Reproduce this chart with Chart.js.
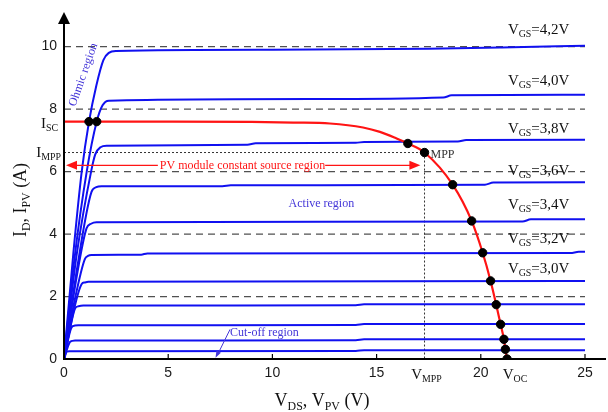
<!DOCTYPE html>
<html>
<head>
    <title>MOSFET output curves and PV I-V curve</title>
    <script src="https://cdn.jsdelivr.net/npm/chart.js"></script>
    <style>
        html, body { margin: 0; padding: 0; background: #fff; }
        .chart-container { width: 608px; height: 412px; position: relative; }
    </style>
</head>
<body>
    <div class="chart-container">
        <canvas id="ivChart"></canvas>
    </div>

    <script>
        // MOSFET output curves I_D(V_DS), one per gate voltage (top to bottom)
        const vgs42 = [[0,0],[0.45,3.4],[0.85,6.0],[1.2,7.6],[1.55,8.75],[1.89,9.57],[2.15,9.8],[2.5,9.86],[10,9.9],[17.5,9.93],[21,9.97],[25,10.03]];
        const vgs40 = [[0,0],[0.5,3.2],[1.09,6.0],[1.57,7.6],[1.85,8.12],[2.15,8.27],[12,8.32],[18.2,8.37],[18.6,8.44],[25,8.46]];
        const vgs38 = [[0,0],[0.6,3.3],[1.3,6.0],[1.5,6.55],[1.75,6.78],[2.05,6.83],[8.8,6.86],[9.2,6.91],[14,6.92],[14.4,6.95],[18.9,6.96],[19.3,7.01],[25,7.02]];
        const vgs36 = [[0,0],[0.65,3.0],[1.32,5.35],[1.55,5.5],[1.8,5.53],[7.6,5.53],[8,5.56],[20.2,5.58],[20.6,5.65],[25,5.66]];
        const vgs34 = [[0,0],[0.6,2.6],[1.08,4.18],[1.3,4.33],[1.56,4.38],[22,4.4],[22.4,4.47],[25,4.47]];
        const vgs32 = [[0,0],[0.55,2.0],[1.0,3.2],[1.15,3.3],[1.32,3.33],[3.7,3.34],[4.0,3.38],[24.3,3.39],[24.7,3.43],[25,3.43]];
        const vgs30 = [[0,0],[0.45,1.5],[0.85,2.4],[1.0,2.45],[1.17,2.47],[25,2.5]];
        const vgs28 = [[0,0],[0.3,1.0],[0.53,1.62],[0.7,1.69],[0.93,1.71],[14,1.72],[14.4,1.75],[25,1.75]];
        const vgs26 = [[0,0],[0.37,1.02],[0.52,1.07],[0.69,1.08],[14,1.09],[14.4,1.12],[25,1.12]];
        const vgs24 = [[0,0],[0.29,0.55],[0.4,0.58],[0.53,0.59],[14,0.6],[14.4,0.63],[25,0.63]];
        const vgs22 = [[0,0],[0.13,0.23],[0.25,0.25],[0.37,0.25],[14,0.26],[14.4,0.28],[25,0.28]];
        const mosfetCurves = [vgs42, vgs40, vgs38, vgs36, vgs34, vgs32, vgs30, vgs28, vgs26, vgs24, vgs22];

        // PV module I-V curve
        const pvCurve = [[0,7.6],[5,7.6],[9,7.59],[11,7.57],[12.76,7.54],[14.35,7.41],[15.16,7.27],[15.96,7.06],[16.5,6.9],[17.3,6.61],[18.65,5.58],[19.56,4.42],[20.09,3.4],[20.47,2.5],[20.74,1.74],[20.95,1.11],[21.11,0.63],[21.18,0.31],[21.26,0]];

        // operating points (intersections)
        const opPoints = [[1.2,7.6],[1.57,7.6],[16.5,6.9],[17.3,6.61],[18.65,5.58],[19.56,4.42],[20.09,3.4],[20.47,2.5],[20.74,1.74],[20.95,1.11],[21.11,0.63],[21.18,0.31],[21.26,0]];

        const vgsLabels = ['=4,2V', '=4,0V', '=3,8V', '=3,6V', '=3,4V', '=3,2V', '=3,0V'];
        const gridLevels = [2, 4, 6, 8, 10];
        const iSC = 7.6, iMPP = 6.61, vMPP = 17.3, vOC = 21.26;

        const toXY = arr => arr.map(p => ({ x: p[0], y: p[1] }));

        const BLUE = '#1010f0';
        const RED = '#ff1414';
        const REGION = '#4436d8';
        const SERIF = '"Liberation Serif", "DejaVu Serif", serif';

        // text with subscripts: parts = [[text, isSub], ...]
        function subText(ctx, parts, x, y, size, align, color) {
            ctx.save();
            ctx.fillStyle = color;
            ctx.textBaseline = 'alphabetic';
            ctx.textAlign = 'left';
            const sub = size * 0.66;
            let w = 0;
            parts.forEach(p => {
                ctx.font = (p[1] ? sub : size) + 'px ' + SERIF;
                w += ctx.measureText(p[0]).width;
            });
            let cx = align === 'center' ? x - w / 2 : align === 'right' ? x - w : x;
            parts.forEach(p => {
                ctx.font = (p[1] ? sub : size) + 'px ' + SERIF;
                ctx.fillText(p[0], cx, p[1] ? y + size * 0.2 : y);
                cx += ctx.measureText(p[0]).width;
            });
            ctx.restore();
        }

        function arrowHead(ctx, tx, ty, angle, len, half) {
            ctx.beginPath();
            ctx.moveTo(tx, ty);
            ctx.lineTo(tx - len * Math.cos(angle) + half * Math.sin(angle), ty - len * Math.sin(angle) - half * Math.cos(angle));
            ctx.lineTo(tx - len * Math.cos(angle) - half * Math.sin(angle), ty - len * Math.sin(angle) + half * Math.cos(angle));
            ctx.closePath();
            ctx.fill();
        }

        const decorPlugin = {
            id: 'decor',
            beforeDatasetsDraw(chart) {
                const ctx = chart.ctx;
                const xs = chart.scales.x, ys = chart.scales.y;
                ctx.save();
                // dashed reference levels
                ctx.strokeStyle = '#505050';
                ctx.lineWidth = 1.3;
                ctx.setLineDash([7, 5]);
                gridLevels.forEach(v => {
                    ctx.beginPath();
                    ctx.moveTo(xs.getPixelForValue(0), ys.getPixelForValue(v));
                    ctx.lineTo(xs.getPixelForValue(25), ys.getPixelForValue(v));
                    ctx.stroke();
                });
                // MPP dotted guides
                ctx.strokeStyle = '#333';
                ctx.lineWidth = 1;
                ctx.setLineDash([2, 2]);
                ctx.beginPath();
                ctx.moveTo(xs.getPixelForValue(0), ys.getPixelForValue(iMPP));
                ctx.lineTo(xs.getPixelForValue(vMPP), ys.getPixelForValue(iMPP));
                ctx.moveTo(xs.getPixelForValue(vMPP), ys.getPixelForValue(iMPP));
                ctx.lineTo(xs.getPixelForValue(vMPP), ys.getPixelForValue(0));
                ctx.stroke();
                ctx.restore();
            },
            afterDatasetsDraw(chart) {
                const ctx = chart.ctx;
                const xs = chart.scales.x, ys = chart.scales.y;
                const px = v => xs.getPixelForValue(v);
                const py = v => ys.getPixelForValue(v);
                const left = px(0), bottom = py(0);
                ctx.save();
                // axes
                ctx.strokeStyle = '#000';
                ctx.fillStyle = '#000';
                ctx.lineWidth = 2;
                ctx.setLineDash([]);
                ctx.beginPath();
                ctx.moveTo(left, bottom);
                ctx.lineTo(left, 22);
                ctx.moveTo(left - 1, bottom);
                ctx.lineTo(606, bottom);
                ctx.stroke();
                arrowHead(ctx, left, 12, -Math.PI / 2, 12, 6);
                ctx.lineWidth = 1.2;
                [5, 10, 15, 20, 25].forEach(v => {
                    ctx.beginPath();
                    ctx.moveTo(px(v), bottom);
                    ctx.lineTo(px(v), bottom - 5);
                    ctx.stroke();
                });
                ctx.restore();

                // gate voltage labels
                const labelY = [10.41, 8.77, 7.25, 5.89, 4.81, 3.70, 2.75];
                vgsLabels.forEach((t, i) => {
                    subText(ctx, [['V', 0], ['GS', 1], [t, 0]], px(21.3), py(labelY[i]), 15, 'left', '#111');
                });

                // current / voltage markers
                subText(ctx, [['I', 0], ['SC', 1]], left - 6, py(iSC) + 6, 15, 'right', '#111');
                subText(ctx, [['I', 0], ['MPP', 1]], left - 3, py(iMPP) + 4, 15, 'right', '#111');
                subText(ctx, [['MPP', 0]], px(vMPP) + 6, py(iMPP) + 5, 12, 'left', '#333');
                subText(ctx, [['V', 0], ['MPP', 1]], px(vMPP) + 2, bottom + 20, 15, 'center', '#111');
                subText(ctx, [['V', 0], ['OC', 1]], px(vOC) + 8, bottom + 20, 15, 'center', '#111');

                // axis titles
                subText(ctx, [['V', 0], ['DS', 1], [', V', 0], ['PV', 1], [' (V)', 0]], 322, 406, 18, 'center', '#111');
                ctx.save();
                ctx.translate(26, 200);
                ctx.rotate(-Math.PI / 2);
                subText(ctx, [['I', 0], ['D', 1], [', I', 0], ['PV', 1], [' (A)', 0]], 0, 0, 18, 'center', '#111');
                ctx.restore();

                // PV constant source region with double arrow
                ctx.save();
                ctx.font = '12px ' + SERIF;
                ctx.fillStyle = RED;
                ctx.strokeStyle = RED;
                ctx.lineWidth = 1.3;
                const txt = 'PV module constant source region';
                const tw = ctx.measureText(txt).width;
                const ay = py(6.2);
                const tx0 = px(4.6);
                ctx.textBaseline = 'middle';
                ctx.fillText(txt, tx0, ay + 1);
                ctx.beginPath();
                ctx.moveTo(tx0 - 2, ay);
                ctx.lineTo(left + 8, ay);
                ctx.moveTo(tx0 + tw, ay);
                ctx.lineTo(px(17.1) - 8, ay);
                ctx.stroke();
                arrowHead(ctx, left + 2, ay, Math.PI, 11, 4.5);
                arrowHead(ctx, px(17.1), ay, 0, 11, 4.5);
                ctx.restore();

                // region names
                ctx.save();
                ctx.fillStyle = REGION;
                ctx.strokeStyle = REGION;
                ctx.font = '12px ' + SERIF;
                ctx.textAlign = 'center';
                ctx.textBaseline = 'middle';
                ctx.fillText('Active region', px(12.35), py(4.97));
                ctx.textAlign = 'left';
                ctx.fillText('Cut-off region', px(7.97), py(0.83));
                ctx.lineWidth = 1;
                ctx.beginPath();
                ctx.moveTo(px(7.97), py(0.95));
                ctx.lineTo(px(7.3) + 2, py(0.08) - 3);
                ctx.stroke();
                arrowHead(ctx, px(7.27), py(0.04), Math.atan2(py(0.04) - py(0.95), px(7.27) - px(7.97)), 7, 2.5);
                ctx.translate(px(0.93), py(9.1));
                ctx.rotate(-70.5 * Math.PI / 180);
                ctx.textAlign = 'center';
                ctx.fillText('Ohmic region', 0, 0);
                ctx.restore();
            }
        };

        const datasets = [];
        datasets.push({
            data: toXY(opPoints),
            showLine: false,
            pointRadius: 4.2,
            pointBackgroundColor: '#000',
            pointBorderColor: '#000',
            order: 0
        });
        datasets.push({
            data: toXY(pvCurve),
            showLine: true,
            borderColor: RED,
            borderWidth: 2.2,
            pointRadius: 0,
            cubicInterpolationMode: 'monotone',
            order: 1
        });
        mosfetCurves.forEach(c => {
            datasets.push({
                data: toXY(c),
                showLine: true,
                borderColor: BLUE,
                borderWidth: 2,
                pointRadius: 0,
                cubicInterpolationMode: 'monotone',
                order: 2
            });
        });

        const ctx = document.getElementById('ivChart').getContext('2d');
        const chart = new Chart(ctx, {
            type: 'scatter',
            data: { datasets },
            plugins: [decorPlugin],
            options: {
                responsive: true,
                maintainAspectRatio: false,
                animation: false,
                layout: { padding: { top: 11, right: 8, left: 0, bottom: 0 } },
                plugins: { legend: { display: false }, tooltip: { enabled: false } },
                scales: {
                    x: {
                        type: 'linear',
                        min: 0,
                        max: 25.72,
                        afterFit: s => { s.height = 53; },
                        grid: { display: false, drawTicks: false },
                        border: { display: false },
                        ticks: {
                            stepSize: 5,
                            includeBounds: false,
                            padding: 6,
                            color: '#1a1a1a',
                            font: { family: '"Liberation Sans", Arial, sans-serif', size: 14 },
                            maxRotation: 0
                        }
                    },
                    y: {
                        type: 'linear',
                        min: 0,
                        max: 11,
                        afterFit: s => { s.width = 64; },
                        grid: { display: false, drawTicks: false },
                        border: { display: false },
                        ticks: {
                            stepSize: 2,
                            includeBounds: false,
                            padding: 7,
                            color: '#1a1a1a',
                            font: { family: '"Liberation Sans", Arial, sans-serif', size: 14 }
                        }
                    }
                }
            }
        });
    </script>
</body>
</html>
